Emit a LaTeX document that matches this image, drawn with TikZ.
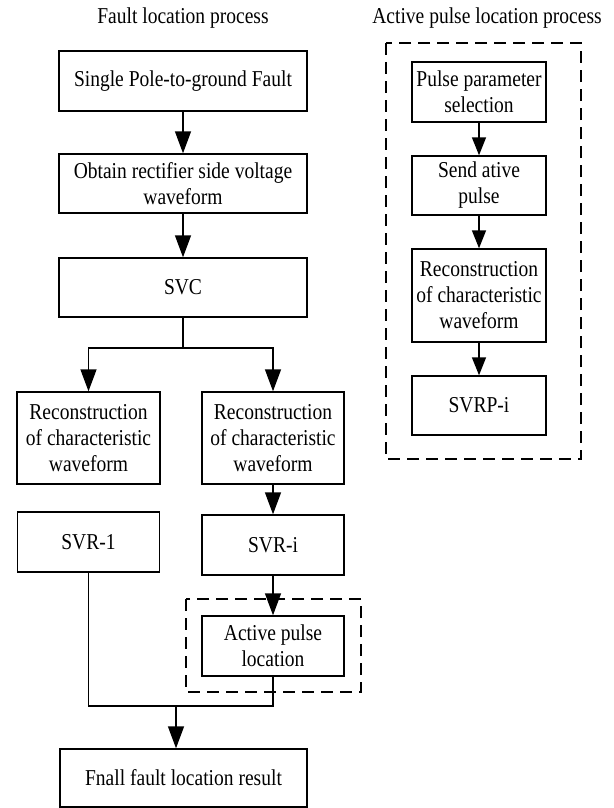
\documentclass[tikz,border=0pt]{standalone}
\usepackage{fontspec}
\setmainfont{Liberation Serif}[FakeStretch=0.86]
\usetikzlibrary{arrows.meta}
\begin{document}
\begin{tikzpicture}[x=1pt,y=-1pt,
  txt/.style={inner sep=0pt,align=center,font=\fontsize{22.7}{26}\selectfont},
  box/.style={txt,draw,line width=1.4pt},
  arr/.style={line width=1.4pt,-{Triangle[length=22pt,width=16pt]}},
  sarr/.style={line width=1.4pt,-{Triangle[length=18pt,width=14pt]}},
  ln/.style={line width=1.4pt},
  dbox/.style={draw,line width=1.6pt,dash pattern=on 12pt off 7pt}]
\useasboundingbox (0,0) rectangle (613,808);
% titles
\node[txt] (t1) at (183,18) {Fault location process};
\node[txt] (t2) at (487,18) {Active pulse location process};
% left column
\node[box,minimum width=248pt,minimum height=60pt] (b1) at (183,81) {Single Pole-to-ground Fault};
\node[box,minimum width=248pt,minimum height=59pt] (b2) at (183,183.5) {Obtain rectifier side voltage\\waveform};
\node[box,minimum width=248pt,minimum height=59pt] (svc) at (183,287.5) {SVC};
\node[box,minimum width=143pt,minimum height=92pt] (rec1) at (88.5,438) {Reconstruction\\of characteristic\\waveform};
\node[box,minimum width=142pt,minimum height=92pt] (rec2) at (273,438) {Reconstruction\\of characteristic\\waveform};
\node[box,minimum width=142pt,minimum height=60pt] (svr1) at (88.5,542) {SVR-1};
\node[box,minimum width=142pt,minimum height=60pt] (svri) at (273,545) {SVR-i};
\node[box,minimum width=142pt,minimum height=60pt] (act) at (273,646) {Active pulse\\location};
\node[box,minimum width=247pt,minimum height=58pt] (fin) at (183.5,778) {Fnall fault location result};
\draw[dbox] (186,599) rectangle (361,692);
% right column
\draw[dbox] (386,43) rectangle (581,459);
\node[box,minimum width=134pt,minimum height=60pt] (pp) at (479,92) {Pulse parameter\\selection};
\node[box,minimum width=134pt,minimum height=59pt] (send) at (479,185.5) {Send ative\\pulse};
\node[box,minimum width=134pt,minimum height=93pt] (rec3) at (479,295.5) {Reconstruction\\of characteristic\\waveform};
\node[box,minimum width=134pt,minimum height=59pt] (svrp) at (479,405.5) {SVRP-i};
% connectors
\draw[arr] (b1) -- (b2);
\draw[arr] (b2) -- (svc);
\coordinate (br) at (183,348);
\draw[ln] (svc.south) -- (br);
\draw[arr] (br) -| (rec1.north);
\draw[arr] (br) -| (rec2.north);
\draw[arr] (rec2) -- (svri);
\draw[arr] (svri) -- (act);
\coordinate (jn) at (176,706);
\draw[ln] (svr1.south) |- (jn);
\draw[ln] (act.south) |- (jn);
\draw[arr] (jn) -- (jn |- fin.north);
\draw[sarr] (pp) -- (send);
\draw[sarr] (send) -- (rec3);
\draw[sarr] (rec3) -- (svrp);
\end{tikzpicture}
\end{document}
